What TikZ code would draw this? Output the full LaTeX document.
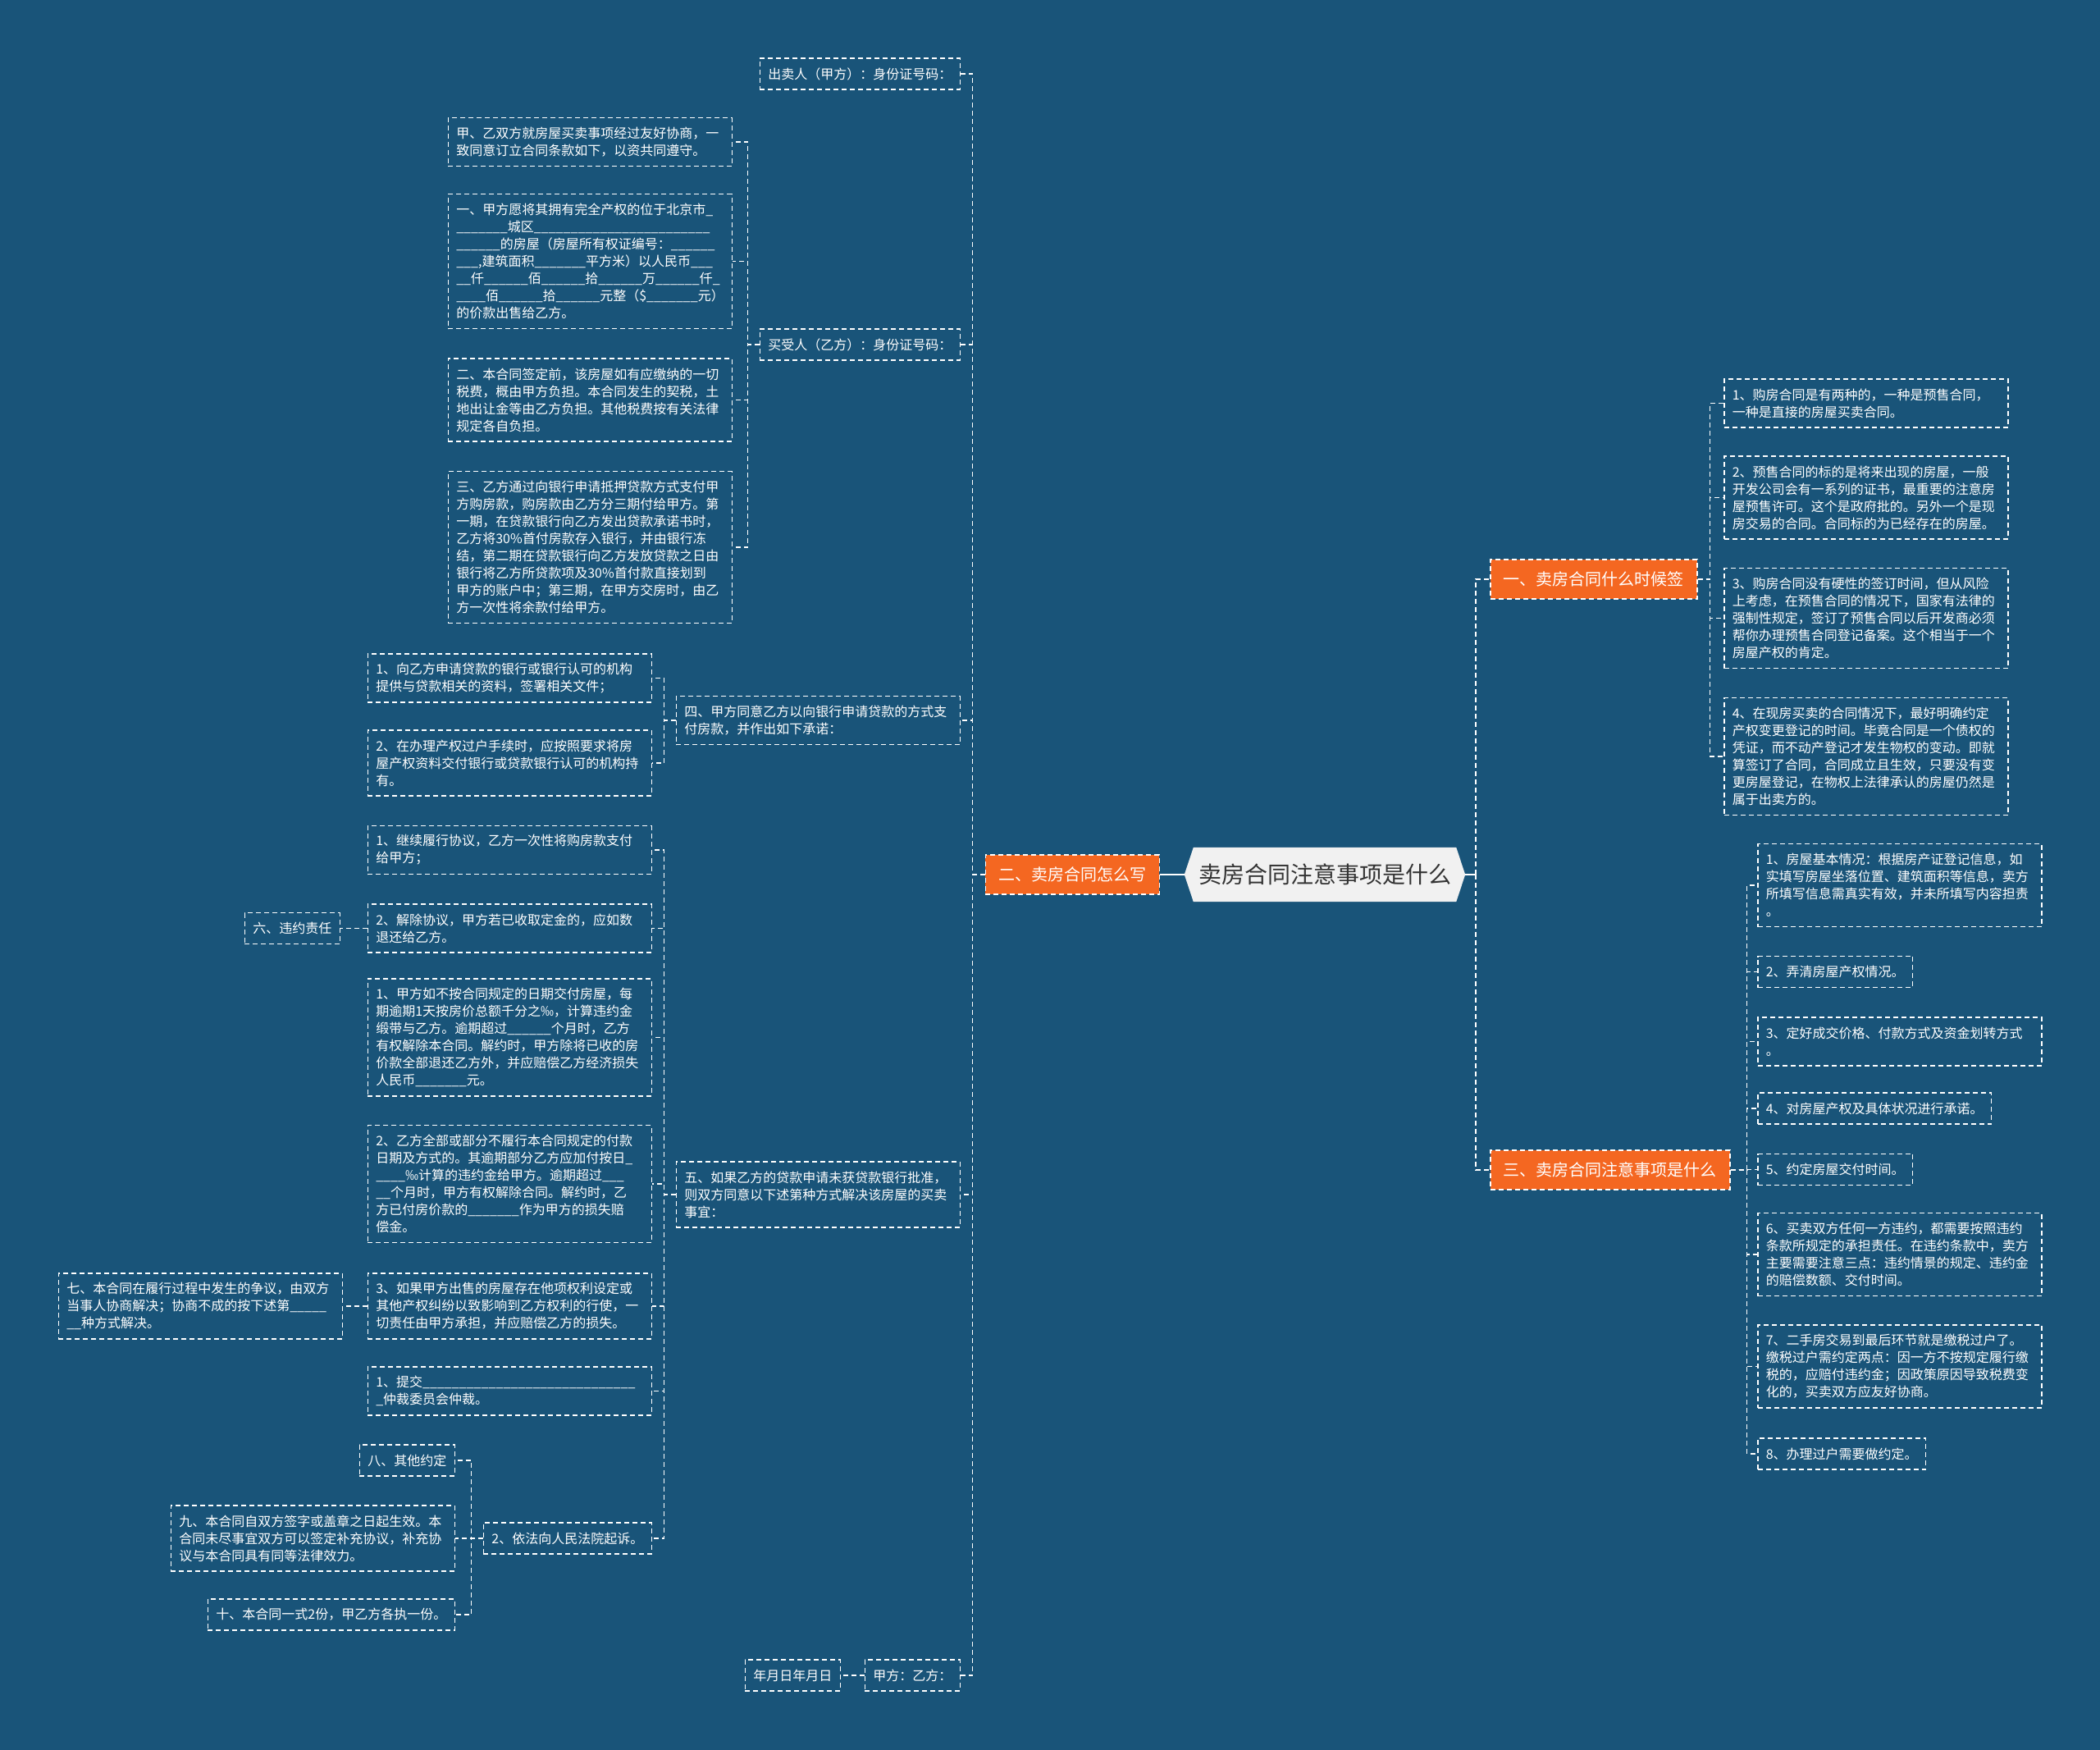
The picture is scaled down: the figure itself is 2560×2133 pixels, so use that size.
\documentclass[tikz,border=0pt]{standalone}
\usepackage{fontspec}
\newfontfamily\cjk{Noto Sans CJK SC}
\usetikzlibrary{backgrounds}
\definecolor{bgc}{RGB}{25,84,121}
\definecolor{orng}{RGB}{244,103,33}
\definecolor{ctrfill}{RGB}{241,241,241}
\definecolor{ctrtext}{RGB}{51,51,51}
\newcommand\blk[1]{\foreach\blkn in {1,...,#1}{\_}}
\tikzset{
  dsh/.style={dash pattern=on 6pt off 4pt, line width=1.5pt},
  leaf/.style={draw=white, dsh, text=white, font=\cjk\fontsize{16}{21}\selectfont,
    inner xsep=10pt, inner ysep=2pt, minimum height=38pt},
  multi/.style={leaf, text width=326pt, align=left, minimum height={21*#1+17}},
  branch/.style={fill=orng, draw=white, dsh, text=white, font=\cjk\fontsize{20}{24}\selectfont,
    inner xsep=16pt, inner ysep=2pt, minimum height=48pt},
  rootbox/.style={font=\cjk\fontsize{28}{32}\selectfont, text=ctrtext, minimum width=320pt,
    minimum height=66pt, inner sep=0pt},
  link/.style={draw=white, dsh},
  slink/.style={draw=white, line width=1.5pt}
}
\begin{document}
\begin{tikzpicture}[x=1pt, y=-1pt]
\begin{scope}[on background layer]
  \fill[bgc] (0,0) rectangle (2560,2133);
\end{scope}

% root
\node[rootbox] (root) at (1615,1066) {卖房合同注意事项是什么};
\begin{scope}[on background layer]
  \fill[ctrfill] (root.north west) -- (root.north east) -- ([xshift=11pt]root.east)
    -- (root.south east) -- (root.south west) -- ([xshift=-11pt]root.west) -- cycle;
\end{scope}

% main branches
\node[branch, anchor=west] (b1) at (1816,706) {一、卖房合同什么时候签};
\node[branch, anchor=west] (b3) at (1816,1426) {三、卖房合同注意事项是什么};
\node[branch, anchor=east] (b2) at (1414,1066) {二、卖房合同怎么写};

% right: branch 1
\node[multi=2, anchor=west] (r1) at (2101,491.5) {1、购房合同是有两种的，一种是预售合同，\\一种是直接的房屋买卖合同。};
\node[multi=4, anchor=west] (r2) at (2101,606.5) {2、预售合同的标的是将来出现的房屋，一般\\开发公司会有一系列的证书，最重要的注意房\\屋预售许可。这个是政府批的。另外一个是现\\房交易的合同。合同标的为已经存在的房屋。};
\node[multi=5, anchor=west] (r3) at (2101,753.5) {3、购房合同没有硬性的签订时间，但从风险\\上考虑，在预售合同的情况下，国家有法律的\\强制性规定，签订了预售合同以后开发商必须\\帮你办理预售合同登记备案。这个相当于一个\\房屋产权的肯定。};
\node[multi=6, anchor=west] (r4) at (2101,922) {4、在现房买卖的合同情况下，最好明确约定\\产权变更登记的时间。毕竟合同是一个债权的\\凭证，而不动产登记才发生物权的变动。即就\\算签订了合同，合同成立且生效，只要没有变\\更房屋登记，在物权上法律承认的房屋仍然是\\属于出卖方的。};

% right: branch 3
\node[multi=4, anchor=west] (s1) at (2142,1079) {1、房屋基本情况：根据房产证登记信息，如\\实填写房屋坐落位置、建筑面积等信息，卖方\\所填写信息需真实有效，并未所填写内容担责\\。};
\node[leaf, anchor=west] (s2) at (2142,1184.5) {2、弄清房屋产权情况。};
\node[multi=2, anchor=west] (s3) at (2142,1269.5) {3、定好成交价格、付款方式及资金划转方式\\。};
\node[leaf, anchor=west] (s4) at (2142,1351) {4、对房屋产权及具体状况进行承诺。};
\node[leaf, anchor=west] (s5) at (2142,1425.5) {5、约定房屋交付时间。};
\node[multi=4, anchor=west] (s6) at (2142,1529) {6、买卖双方任何一方违约，都需要按照违约\\条款所规定的承担责任。在违约条款中，卖方\\主要需要注意三点：违约情景的规定、违约金\\的赔偿数额、交付时间。};
\node[multi=4, anchor=west] (s7) at (2142,1665.5) {7、二手房交易到最后环节就是缴税过户了。\\缴税过户需约定两点：因一方不按规定履行缴\\税的，应赔付违约金；因政策原因导致税费变\\化的，买卖双方应友好协商。};
\node[leaf, anchor=west] (s8) at (2142,1772) {8、办理过户需要做约定。};

% left: branch 2 children
\node[leaf, anchor=east] (a1) at (1171,90) {出卖人（甲方）：身份证号码：};
\node[leaf, anchor=east] (a2) at (1171,420) {买受人（乙方）：身份证号码：};
\node[multi=2, anchor=east] (a3) at (1171,878) {四、甲方同意乙方以向银行申请贷款的方式支\\付房款，并作出如下承诺：};
\node[multi=3, anchor=east] (a4) at (1171,1456) {五、如果乙方的贷款申请未获贷款银行批准，\\则双方同意以下述第种方式解决该房屋的买卖\\事宜：};
\node[leaf, anchor=east] (a5) at (1171,2042) {甲方：乙方：};
\node[leaf, anchor=east] (h) at (1025,2042) {年月日年月日};

% children of a2
\node[multi=2, anchor=east] (c1) at (893,173) {甲、乙双方就房屋买卖事项经过友好协商，一\\致同意订立合同条款如下，以资共同遵守。};
\node[multi=7, anchor=east] (c2) at (893,318.5) {一、甲方愿将其拥有完全产权的位于北京市\_\\\blk{7}城区\blk{24}\\\blk{6}的房屋（房屋所有权证编号：\blk{6}\\\blk{3},建筑面积\blk{7}平方米）以人民币\blk{3}\\\blk{2}仟\blk{6}佰\blk{6}拾\blk{6}万\blk{6}仟\_\\\blk{4}佰\blk{6}拾\blk{6}元整（\$\blk{7}元）\\的价款出售给乙方。};
\node[multi=4, anchor=east] (c3) at (893,487.5) {二、本合同签定前，该房屋如有应缴纳的一切\\税费，概由甲方负担。本合同发生的契税，土\\地出让金等由乙方负担。其他税费按有关法律\\规定各自负担。};
\node[multi=8, anchor=east] (c4) at (893,667) {三、乙方通过向银行申请抵押贷款方式支付甲\\方购房款，购房款由乙方分三期付给甲方。第\\一期，在贷款银行向乙方发出贷款承诺书时，\\乙方将30\%首付房款存入银行，并由银行冻\\结，第二期在贷款银行向乙方发放贷款之日由\\银行将乙方所贷款项及30\%首付款直接划到\\甲方的账户中；第三期，在甲方交房时，由乙\\方一次性将余款付给甲方。};

% children of a3
\node[multi=2, anchor=east] (d1) at (795,826.5) {1、向乙方申请贷款的银行或银行认可的机构\\提供与贷款相关的资料，签署相关文件；};
\node[multi=3, anchor=east] (d2) at (795,930) {2、在办理产权过户手续时，应按照要求将房\\屋产权资料交付银行或贷款银行认可的机构持\\有。};

% children of a4
\node[multi=2, anchor=east] (e1) at (795,1036) {1、继续履行协议，乙方一次性将购房款支付\\给甲方；};
\node[multi=2, anchor=east] (e2) at (795,1131.5) {2、解除协议，甲方若已收取定金的，应如数\\退还给乙方。};
\node[multi=6, anchor=east] (e3) at (795,1264.5) {1、甲方如不按合同规定的日期交付房屋，每\\期逾期1天按房价总额千分之‰，计算违约金\\缎带与乙方。逾期超过\blk{6}个月时，乙方\\有权解除本合同。解约时，甲方除将已收的房\\价款全部退还乙方外，并应赔偿乙方经济损失\\人民币\blk{7}元。};
\node[multi=6, anchor=east] (e4) at (795,1443) {2、乙方全部或部分不履行本合同规定的付款\\日期及方式的。其逾期部分乙方应加付按日\_\\\blk{4}‰计算的违约金给甲方。逾期超过\blk{3}\\\blk{2}个月时，甲方有权解除合同。解约时，乙\\方已付房价款的\blk{7}作为甲方的损失赔\\偿金。};
\node[multi=3, anchor=east] (e5) at (795,1592) {3、如果甲方出售的房屋存在他项权利设定或\\其他产权纠纷以致影响到乙方权利的行使，一\\切责任由甲方承担，并应赔偿乙方的损失。};
\node[multi=2, anchor=east] (e6) at (795,1695.5) {1、提交\blk{29}\\\_仲裁委员会仲裁。};
\node[leaf, anchor=east] (e7) at (795,1875) {2、依法向人民法院起诉。};

\node[leaf, anchor=east] (f6) at (415,1131.5) {六、违约责任};
\node[multi=3, anchor=east] (f7) at (418,1592) {七、本合同在履行过程中发生的争议，由双方\\当事人协商解决；协商不成的按下述第\blk{5}\\\blk{2}种方式解决。};

\node[leaf, anchor=east] (g8) at (555,1780) {八、其他约定};
\node[multi=3, anchor=east] (g9) at (555,1875) {九、本合同自双方签字或盖章之日起生效。本\\合同未尽事宜双方可以签定补充协议，补充协\\议与本合同具有同等法律效力。};
\node[leaf, anchor=east] (g10) at (555,1968) {十、本合同一式2份，甲乙方各执一份。};

% connectors
\draw[slink] ([xshift=-11pt]root.west) -- (b2.east);
\draw[slink] ([xshift=11pt]root.east) -- ([xshift=24pt]root.east);
\foreach \t in {b1,b3} \draw[link] ([xshift=24pt]root.east) |- (\t.west);
\foreach \t in {r1,r2,r3,r4} \draw[link] (b1.east) -- ([xshift=15pt]b1.east) |- (\t.west);
\foreach \t in {s1,s2,s3,s4,s5,s6,s7,s8} \draw[link] (b3.east) -- ([xshift=20pt]b3.east) |- (\t.west);
\foreach \t in {a1,a2,a3,a4,a5} \draw[link] (b2.west) -- ([xshift=-15pt]b2.west) |- (\t.east);
\foreach \t in {c1,c2,c3,c4} \draw[link] (a2.west) -- ([xshift=-14pt]a2.west) |- (\t.east);
\foreach \t in {d1,d2} \draw[link] (a3.west) -- ([xshift=-14pt]a3.west) |- (\t.east);
\foreach \t in {e1,e2,e3,e4,e5,e6,e7} \draw[link] (a4.west) -- ([xshift=-14pt]a4.west) |- (\t.east);
\foreach \t in {g8,g9,g10} \draw[link] (e7.west) -- ([xshift=-14pt]e7.west) |- (\t.east);
\draw[link] (e2.west) -- (f6.east);
\draw[link] (e5.west) -- (f7.east);
\draw[link] (a5.west) -- (h.east);
\end{tikzpicture}
\end{document}
